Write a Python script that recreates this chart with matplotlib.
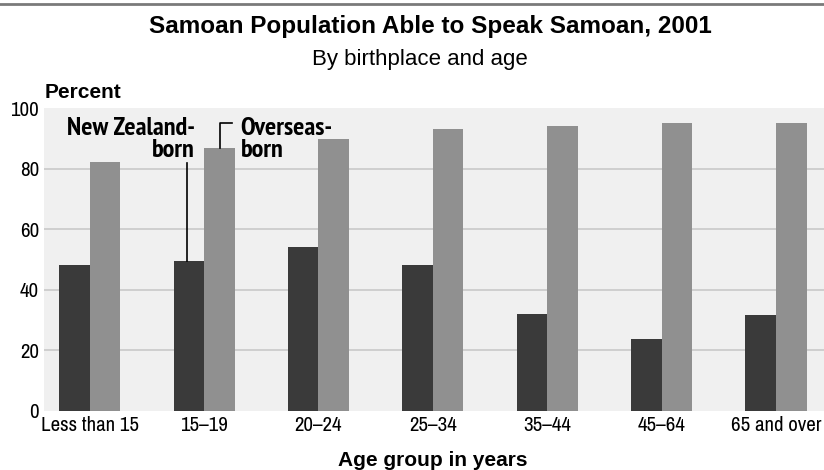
import matplotlib
matplotlib.use("Agg")
import matplotlib.pyplot as plt
import numpy as np
from matplotlib import font_manager as fm

categories = ["Less than 15", "15\u201319", "20\u201324", "25\u201334", "35\u201344", "45\u201364", "65 and over"]
nz_born = [48.2, 49.5, 54.1, 48.2, 32.0, 23.7, 31.6]
overseas_born = [82.4, 86.9, 90.0, 93.2, 94.2, 95.2, 95.2]
yticks = [0, 20, 40, 60, 80, 100]

fonts = fm.fontManager.ttflist
available = {f.name for f in fonts}
cands = ["Liberation Sans Narrow", "Arial Narrow", "Archivo Narrow", "PT Sans Narrow",
         "Roboto Condensed", "IBM Plex Sans Condensed", "Sofia Sans Condensed",
         "Open Sans Condensed", "DejaVu Sans Condensed"]
narrow = next((n for n in cands if n in available), "DejaVu Sans")
narrow_bold = next((n for n in cands
                    if any(f.name == n and isinstance(f.weight, int) and f.weight >= 700 for f in fonts)),
                   narrow)
wide = "Liberation Sans"

fig = plt.figure(figsize=(8.24, 4.70), dpi=100)
ax = fig.add_axes([44/824, (470-410.5)/470, 1-44/824, (410.5-108.5)/470])
ax.set_facecolor("#f0f0f0")

x = np.arange(len(categories))
w = 0.267
ax.bar(x - w/2, nz_born, width=w, color="#3a3a3a", zorder=3)
ax.bar(x + w/2, overseas_born, width=w, color="#909090", zorder=3)

ax.set_xlim(-0.40, 6.42)
ax.set_ylim(0, 100)
ax.set_yticks(yticks)
ax.set_yticklabels([str(v) for v in yticks], fontfamily=narrow, fontsize=15)
ax.set_xticks(x)
ax.set_xticklabels(categories, fontfamily=narrow, fontsize=15)
ax.tick_params(length=0)
ax.tick_params(axis="x", pad=4)
ax.tick_params(axis="y", pad=3.5)
for s in ax.spines.values():
    s.set_visible(False)
for v in yticks[1:-1]:
    ax.axhline(v, color="#cccccc", lw=1.3, zorder=1)

# annotations
ann_kw = dict(va="center", fontfamily=narrow_bold, fontweight="bold", zorder=4)
t1 = ax.text(0.92, 93.5, "New Zealand-", ha="right", fontsize=16, **ann_kw)
t2 = ax.text(0.92, 86.2, "born", ha="right", fontsize=16, **ann_kw)
t3 = ax.text(1.32, 93.5, "Overseas-", ha="left", fontsize=16, **ann_kw)
t4 = ax.text(1.32, 86.2, "born", ha="left", fontsize=16, **ann_kw)
fig.canvas.draw()
r = fig.canvas.get_renderer()
wid = t3.get_window_extent(r).width
fs = 16 * 93.0 / wid
for t in (t1, t2, t3, t4):
    t.set_fontsize(fs)
ax.plot([0.85, 0.85], [nz_born[1], 82], color="black", lw=1.2, zorder=4)
ax.plot([1.137, 1.137, 1.242], [overseas_born[1], 95.2, 95.2], color="black", lw=1.2, zorder=4)

fig.text(430/824, 1 - 27/470, "Samoan Population Able to Speak Samoan, 2001", ha="center", va="center",
         fontfamily=wide, fontweight="bold", fontsize=17.5)
fig.text(420/824, 1 - 59/470, "By birthplace and age", ha="center", va="center",
         fontfamily=wide, fontsize=16)
fig.text(45/824, 1 - 92/470, "Percent", ha="left", va="center",
         fontfamily=wide, fontweight="bold", fontsize=15)
fig.text(433/824, 1 - 461/470, "Age group in years", ha="center", va="center",
         fontfamily=wide, fontweight="bold", fontsize=15)
fig.add_artist(plt.Line2D([0, 1], [1 - 3.5/470, 1 - 3.5/470], color="#7a7a7a", lw=2))

fig.savefig("out.png", dpi=100)
